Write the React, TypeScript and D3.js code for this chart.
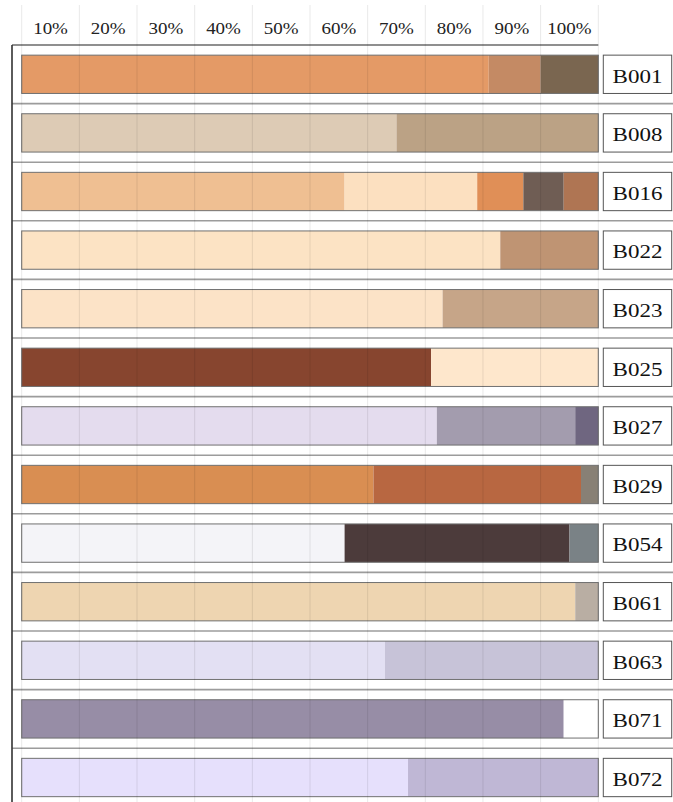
import React from "react";
import * as d3 from "d3";

const categories = ["B001", "B008", "B016", "B022", "B023", "B025", "B027", "B029", "B054", "B061", "B063", "B071", "B072"];

const segmentValues: number[][] = [
  [81, 9, 10],
  [65, 35],
  [56, 23, 8, 7, 6],
  [83, 17],
  [73, 27],
  [71, 29],
  [72, 24, 4],
  [61, 36, 3],
  [56, 39, 5],
  [96, 4],
  [63, 37],
  [94, 6],
  [67, 33],
];

const segmentColors: string[][] = [
  ["#E49A66", "#C48A64", "#7A6650"],
  ["#DDCBB5", "#BBA285"],
  ["#EFBF92", "#FCE0C0", "#E08F57", "#6F5D54", "#AF7553"],
  ["#FCE3C4", "#BF9473"],
  ["#FCE3C7", "#C6A588"],
  ["#87452F", "#FEE7CC"],
  ["#E4DCEE", "#A39CAE", "#6F6680"],
  ["#D98E52", "#B86741", "#888075"],
  ["#F4F4F8", "#4C3B3B", "#7A8286"],
  ["#EED5B1", "#B9AEA3"],
  ["#E3E0F3", "#C7C3D8"],
  ["#978DA6", "#FFFFFF"],
  ["#E6E0FC", "#BFB7D5"],
];

const tickValues = [10, 20, 30, 40, 50, 60, 70, 80, 90, 100];
const tickLabels = ["10%", "20%", "30%", "40%", "50%", "60%", "70%", "80%", "90%", "100%"];

const W = 673;
const H = 802;
const top = 45;
const step = 58.6;

export default function App() {
  const x = d3.scaleLinear().domain([0, 100]).range([21.7, 598.3]);
  const y = d3
    .scaleBand<string>()
    .domain(categories)
    .range([top, top + step * categories.length])
    .paddingInner(0.346)
    .paddingOuter(0.173);
  const rowY = d3
    .scaleBand<string>()
    .domain(categories)
    .range([top, top + step * categories.length])
    .padding(0);
  const bw = y.bandwidth();
  const font = "'Times New Roman', 'Liberation Serif', serif";

  return (
    <svg
      width={W}
      height={H}
      style={{ position: "absolute", left: 0, top: 0, background: "#fff" }}
    >
      <rect x={0} y={0} width={W} height={H} fill="#fff" />
      {tickValues.map((t, i) => (
        <text
          key={t}
          transform={`translate(${(x(t - 10) + x(t)) / 2},34) scale(1.15,1)`}
          textAnchor="middle"
          fontFamily={font}
          fontSize={16.5}
          fill="#222"
        >
          {tickLabels[i]}
        </text>
      ))}
      {categories.slice(1).map((c) => (
        <line
          key={"sep" + c}
          x1={12}
          x2={W}
          y1={rowY(c)!}
          y2={rowY(c)!}
          stroke="#9c9c9c"
          strokeWidth={1.6}
        />
      ))}
      <line x1={12} x2={598.3} y1={top} y2={top} stroke="#6a6a6a" strokeWidth={1.3} />
      {categories.map((c, i) => {
        const vals = segmentValues[i];
        const cum = d3.cumsum(vals);
        return (
          <g key={c}>
            {vals.map((v, j) => {
              const x0 = x(cum[j] - v);
              const x1 = x(cum[j]);
              return (
                <rect
                  key={j}
                  x={x0}
                  y={y(c)!}
                  width={x1 - x0}
                  height={bw}
                  fill={segmentColors[i][j]}
                />
              );
            })}
            <rect
              x={x(0)}
              y={y(c)!}
              width={x(100) - x(0)}
              height={bw}
              fill="none"
              stroke="#707070"
              strokeWidth={1}
            />
            <rect
              x={603.3}
              y={y(c)!}
              width={68.4}
              height={bw}
              fill="#fff"
              stroke="#555"
              strokeWidth={1}
            />
            <text
              transform={`translate(${637.5},${y(c)! + bw / 2 + 8.3}) scale(1.18,1)`}
              textAnchor="middle"
              fontFamily={font}
              fontSize={19.5}
              fill="#111"
            >
              {c}
            </text>
          </g>
        );
      })}
      {[0, ...tickValues].map((t) => (
        <line
          key={"g" + t}
          x1={x(t)}
          x2={x(t)}
          y1={5}
          y2={H}
          stroke="rgba(0,0,0,0.09)"
          strokeWidth={1}
        />
      ))}
      <line x1={12} x2={12} y1={top} y2={H} stroke="#333" strokeWidth={1.6} />
    </svg>
  );
}
